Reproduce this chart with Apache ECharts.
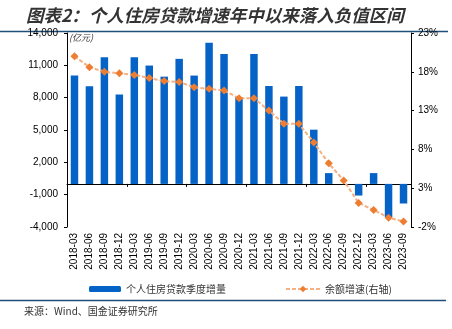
<!DOCTYPE html>
<html><head><meta charset="utf-8">
<script src="https://cdn.jsdelivr.net/npm/echarts@6/dist/echarts.min.js"></script>
<style>html,body{margin:0;padding:0;background:#fff}#c{width:452px;height:329px}</style>
</head><body><div id="c"></div>
<script>
var categories = ['2018-03','2018-06','2018-09','2018-12','2019-03','2019-06','2019-09','2019-12','2020-03','2020-06','2020-09','2020-12','2021-03','2021-06','2021-09','2021-12','2022-03','2022-06','2022-09','2022-12','2023-03','2023-06','2023-09'];
var quarterlyIncrease = [10050, 9050, 11750, 8300, 11750, 10980, 9950, 11600, 10050, 13100, 12050, 8050, 12050, 9080, 8100, 9080, 5030, 1000, 0, -1080, 1000, -3080, -1820];
var growthRate = [20.0, 18.6, 18.0, 17.8, 17.6, 17.2, 16.8, 16.7, 16.0, 15.8, 15.6, 14.6, 14.6, 13.0, 11.3, 11.3, 8.9, 6.2, 4.0, 1.1, 0.2, -0.8, -1.3];
var leftTicks = {min: -4000, max: 14000, interval: 3000};
var rightTicks = {min: -2, max: 23, interval: 5};

var chart = echarts.init(document.getElementById('c'), null, {renderer: 'canvas'});
var txt = '#000';
var font = 'Liberation Sans, Arial, sans-serif';
chart.setOption({
  animation: false,
  textStyle: {fontFamily: font},
  title: {
    text: '图表2：个人住房贷款增速年中以来落入负值区间',
    left: 21, top: 2,
    textStyle: {fontFamily: 'Noto Sans CJK SC', fontSize: 17.5, fontWeight: 'bold', fontStyle: 'italic', color: '#333'}
  },
  graphic: [
    {type: 'line', shape: {x1: 0, y1: 31.5, x2: 448, y2: 31.5}, style: {stroke: '#1F4E79', lineWidth: 1.5}},
    {type: 'line', shape: {x1: 0, y1: 300.5, x2: 446, y2: 300.5}, style: {stroke: '#1F4E79', lineWidth: 1.5}},
    {type: 'text', left: 69, top: 33, style: {text: '(亿元)', font: 'italic 9px "Noto Sans CJK SC"', fill: '#333'}},
    {type: 'text', left: 24, top: 306, style: {text: '来源：Wind、国金证券研究所', font: '10px "Noto Sans CJK SC"', fill: '#333'}}
  ],
  legend: [
    {data: ['个人住房贷款季度增量'], left: 84, top: 279, itemWidth: 32, itemHeight: 6, itemGap: 0,
     textStyle: {fontFamily: 'Noto Sans CJK SC', fontSize: 10, color: '#333'}},
    {data: ['余额增速(右轴)'], left: 280, top: 279, itemWidth: 34, itemHeight: 8, itemGap: 0,
     textStyle: {fontFamily: 'Noto Sans CJK SC', fontSize: 10, color: '#333'}}
  ],
  grid: {left: 67, right: 41, top: 33, bottom: 102, containLabel: false},
  xAxis: [
    {type: 'category', data: categories, position: 'bottom',
     axisLine: {show: false}, axisTick: {show: false},
     axisLabel: {rotate: 90, fontSize: 10, color: txt, margin: 6, interval: 0}},
    {type: 'category', data: categories, position: 'bottom',
     axisLine: {show: true, onZero: true, onZeroAxisIndex: 0, lineStyle: {color: '#000', width: 1}},
     axisTick: {show: true, length: 3, lineStyle: {color: '#000'}},
     axisLabel: {show: false}}
  ],
  yAxis: [
    {type: 'value', min: leftTicks.min, max: leftTicks.max, interval: leftTicks.interval,
     axisLine: {show: true, lineStyle: {color: '#000'}},
     axisTick: {show: true, length: 3, lineStyle: {color: '#000'}},
     splitLine: {show: false},
     axisLabel: {fontSize: 10, color: txt, margin: 9,
       formatter: function (v) { return v.toLocaleString('en-US'); }}},
    {type: 'value', min: rightTicks.min, max: rightTicks.max, interval: rightTicks.interval, position: 'right',
     axisLine: {show: true, lineStyle: {color: '#000'}},
     axisTick: {show: true, length: 3, lineStyle: {color: '#000'}},
     splitLine: {show: false},
     axisLabel: {fontSize: 10, color: txt, margin: 7, formatter: '{value}%'}}
  ],
  series: [
    {name: '个人住房贷款季度增量', type: 'bar', xAxisIndex: 0, yAxisIndex: 0, data: quarterlyIncrease,
     barWidth: '50%', itemStyle: {color: '#0563C8'}},
    {name: '余额增速(右轴)', type: 'line', xAxisIndex: 0, yAxisIndex: 1, data: growthRate,
     symbol: 'diamond', symbolSize: 8,
     lineStyle: {color: '#F4B183', width: 2, type: [4, 2]},
     itemStyle: {color: '#ED7D31'}}
  ]
});
</script></body></html>
